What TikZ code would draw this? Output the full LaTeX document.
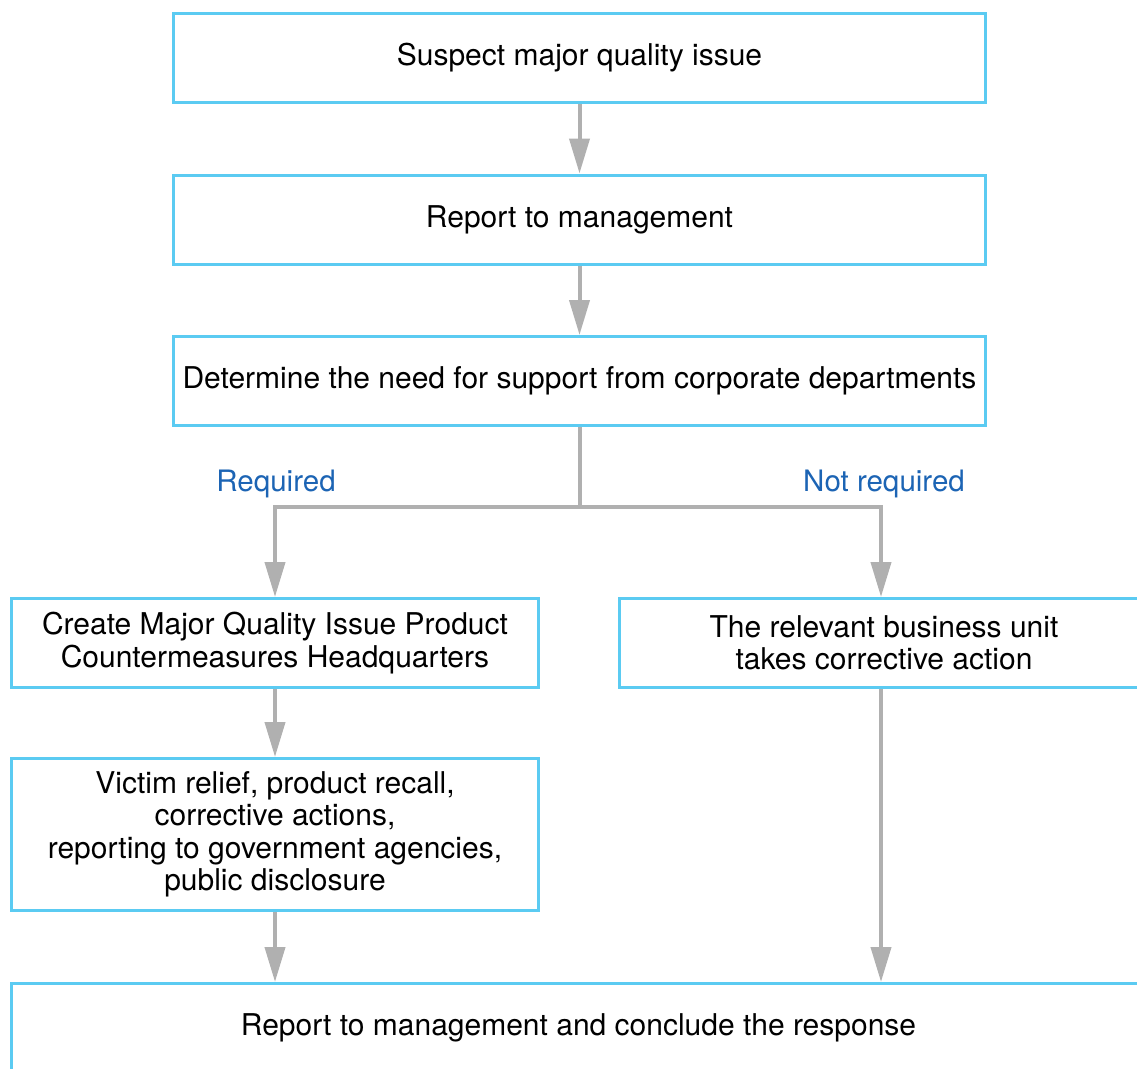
\documentclass[tikz,border=0pt]{standalone}
\usepackage{fontspec}
\setmainfont{TeX Gyre Heros}
\usetikzlibrary{arrows.meta}
\definecolor{boxblue}{HTML}{5BCBF2}
\definecolor{arrgray}{HTML}{B0B0B0}
\definecolor{lblblue}{HTML}{1C64B4}
\begin{document}
\begin{tikzpicture}[x=1pt,y=1pt,
  box/.style={draw=boxblue,line width=3pt,fill=white,rectangle,align=center,
    inner sep=0pt,font=\fontsize{30}{32.5}\selectfont,text=black},
  arr/.style={draw=arrgray,line width=4pt,-{Triangle[length=35pt,width=20pt]}},
  lbl/.style={font=\fontsize{29.5}{32.5}\selectfont,text=lblblue,inner sep=0pt}]
\useasboundingbox (0,0) rectangle (1137,-1068);
\clip (0,0) rectangle (1137,-1068);
\node[box,minimum width=812pt,minimum height=89pt] (b1) at (579.5,-58) {Suspect major quality issue};
\node[box,minimum width=812pt,minimum height=89pt] (b2) at (579.5,-219.5) {Report to management};
\node[box,minimum width=812pt,minimum height=89pt] (b3) at (579.5,-381) {Determine the need for support from corporate departments};
\node[box,minimum width=527pt,minimum height=89pt] (b4) at (275,-643) {Create Major Quality Issue Product\\Countermeasures Headquarters};
\node[box,minimum width=530pt,minimum height=89pt] (b5) at (884,-643) {The relevant business unit\\takes corrective action};
\node[box,minimum width=527pt,minimum height=152pt] (b6) at (275,-834.5) {Victim relief, product recall,\\corrective actions,\\reporting to government agencies,\\public disclosure};
\node[box,minimum width=1134pt,minimum height=89pt] (b7) at (578.5,-1028) {Report to management and conclude the response};
\coordinate (j) at (579.5,-507);
\draw[arr] (b1.south) -- (b2.north);
\draw[arr] (b2.south) -- (b3.north);
\draw[arrgray,line width=4pt] (b3.south) -- (j);
\draw[arr] (j) -| (b4.north);
\draw[arr] (j) -| ([xshift=-3pt]b5.north);
\draw[arr] (b4.south) -- (b6.north);
\draw[arr] (b6.south) -- (b6.south |- b7.north);
\draw[arr] ([xshift=-3pt]b5.south) -- ([xshift=-3pt]b5.south |- b7.north);
\node[lbl] (l1) at (276,-484) {Required};
\node[lbl] (l2) at (884,-484) {Not required};
\end{tikzpicture}
\end{document}
